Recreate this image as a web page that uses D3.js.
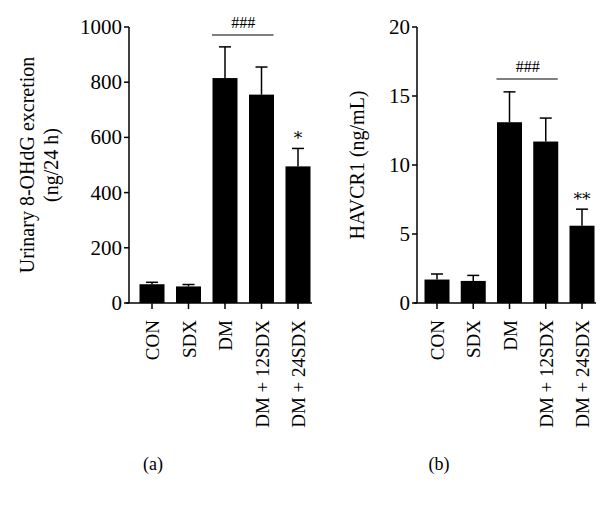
<!DOCTYPE html>
<html>
<head>
<meta charset="UTF-8">
<script src="https://d3js.org/d3.v7.min.js"></script>
<style>
  body { margin: 0; background: #fff; font-family: "Liberation Serif", serif; }
  text { font-family: "Liberation Serif", serif; fill: #000; }
</style>
</head>
<body>
<svg id="chart" width="614" height="511"></svg>
<script>
const groups = ["CON", "SDX", "DM", "DM + 12SDX", "DM + 24SDX"];
const ohdgMean = [68, 60, 815, 755, 495];
const ohdgErr = [7, 7, 113, 100, 65];
const havcrMean = [1.7, 1.6, 13.1, 11.7, 5.6];
const havcrErr = [0.4, 0.4, 2.2, 1.7, 1.2];
const ohdgTicks = [0, 200, 400, 600, 800, 1000];
const havcrTicks = [0, 5, 10, 15, 20];

const svg = d3.select("#chart");

function panel(o) {
    const y = d3.scaleLinear().domain(o.domain).range([303, 27]);
    const x = d3.scalePoint().domain(groups).range([o.x0, o.x1]);
    const g = svg.append("g");
    const bw = 25;

    // y axis
    g.append("line").attr("x1", o.axisX).attr("x2", o.axisX)
        .attr("y1", y(o.domain[1])).attr("y2", 303).attr("stroke", "#000").attr("stroke-width", 1.5);
    o.ticks.forEach(t => {
        g.append("line").attr("x1", o.axisX - 5).attr("x2", o.axisX)
            .attr("y1", y(t)).attr("y2", y(t)).attr("stroke", "#000").attr("stroke-width", 1.5);
        g.append("text").attr("x", o.axisX - 7).attr("y", y(t) + 7)
            .attr("text-anchor", "end").style("font-size", "21px").text(t);
    });
    // x axis
    g.append("line").attr("x1", o.axisX - 3).attr("x2", o.x1 + 14)
        .attr("y1", 303).attr("y2", 303).attr("stroke", "#000").attr("stroke-width", 1.5);
    groups.forEach(c => {
        g.append("line").attr("x1", x(c)).attr("x2", x(c)).attr("y1", 303).attr("y2", 309)
            .attr("stroke", "#000").attr("stroke-width", 1.5);
        g.append("text").attr("transform", `translate(${x(c) + 7},${320}) rotate(-90)`)
            .attr("text-anchor", "end").style("font-size", "19px").text(c);
    });

    // bars + error bars
    groups.forEach((c, i) => {
        const m = o.mean[i], e = o.err[i];
        g.append("line").attr("x1", x(c)).attr("x2", x(c)).attr("y1", y(m)).attr("y2", y(m + e))
            .attr("stroke", "#000").attr("stroke-width", 1.5);
        g.append("line").attr("x1", x(c) - 6).attr("x2", x(c) + 6).attr("y1", y(m + e)).attr("y2", y(m + e))
            .attr("stroke", "#000").attr("stroke-width", 1.5);
        g.append("rect").attr("x", x(c) - bw / 2).attr("y", y(m))
            .attr("width", bw).attr("height", 303 - y(m)).attr("fill", "#000");
    });

    // significance
    g.append("line").attr("x1", x("DM") - 13).attr("x2", x("DM + 12SDX") + 12)
        .attr("y1", o.lineY).attr("y2", o.lineY).attr("stroke", "#000").attr("stroke-width", 1.2);
    g.append("text").attr("x", (x("DM") + x("DM + 12SDX")) / 2).attr("y", o.lineY - 7)
        .attr("text-anchor", "middle").style("font-size", "16px").text("###");
    const last = groups[4];
    g.append("text").attr("x", x(last)).attr("y", y(o.mean[4] + o.err[4]) - 4)
        .attr("text-anchor", "middle").attr("fill", "#000").style("fill", "#000")
        .style("font-family", "'DejaVu Serif', serif").style("font-size", "17px").text(o.star);

    // y label
    const ly = g.append("text").attr("transform", `translate(${o.labelX},165) rotate(-90)`)
        .attr("text-anchor", "middle").style("font-size", "20px");
    o.label.forEach((s, k) => ly.append("tspan").attr("x", 0).attr("dy", k ? 24 : 0).text(s));

    g.append("text").attr("x", o.capX).attr("y", 470).attr("text-anchor", "middle")
        .style("font-size", "18px").text(o.cap);
}

panel({ domain: [0, 1000], ticks: ohdgTicks, mean: ohdgMean, err: ohdgErr,
    axisX: 129, x0: 152, x1: 298, lineY: 35, star: "*", labelX: 34,
    label: ["Urinary 8-OHdG excretion", "(ng/24 h)"], capX: 153, cap: "(a)" });
panel({ domain: [0, 20], ticks: havcrTicks, mean: havcrMean, err: havcrErr,
    axisX: 417, x0: 437, x1: 582, lineY: 79, star: "**", labelX: 364,
    label: ["HAVCR1 (ng/mL)"], capX: 439, cap: "(b)" });
</script>
</body>
</html>
